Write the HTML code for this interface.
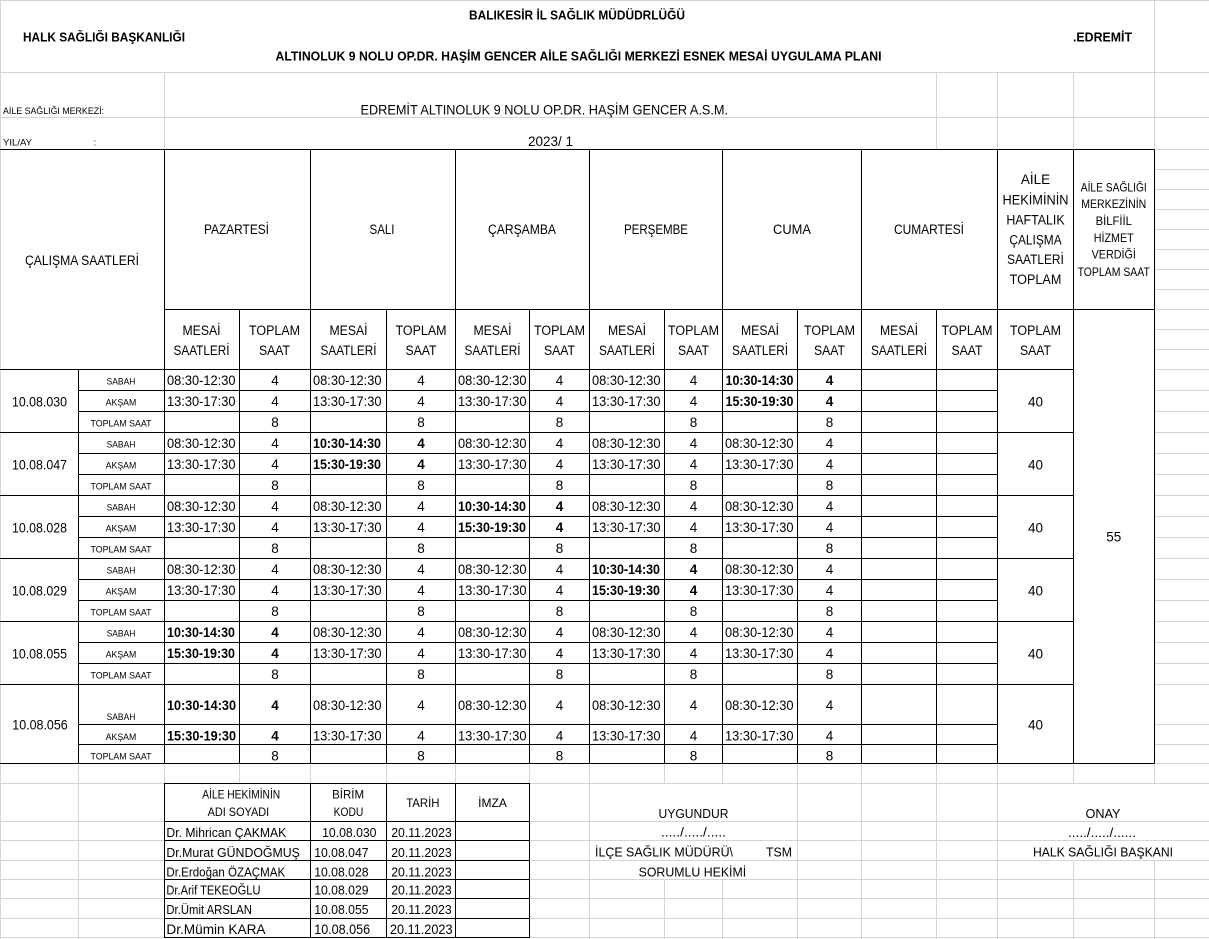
<!DOCTYPE html>
<html><head><meta charset="utf-8"><style>
html,body{margin:0;padding:0;background:#fff;}
svg{display:block;}
text{font-family:"Liberation Sans",sans-serif;fill:#000;font-size:13.5px;}
.b{font-weight:bold;}
.s{font-size:9.5px;}
.m{font-size:12px;}
.g{stroke:#d4d4d4;stroke-width:1;fill:none;}
.k{stroke:#000;stroke-width:1;fill:none;}
</style></head><body>
<svg width="1209" height="939" viewBox="0 0 1209 939" xmlns="http://www.w3.org/2000/svg">
<rect width="1209" height="939" fill="#fff"/>
<!-- grey gridlines -->
<path class="g" d="M0 0.5H1209M0 72.5H1209M0 117.5H1209M1154.5 149.5H1209
M1154.5 169.5H1209M1154.5 189.5H1209M1154.5 209.5H1209M1154.5 229.5H1209M1154.5 249.5H1209M1154.5 269.5H1209M1154.5 289.5H1209M1154.5 309.5H1209M1154.5 329.5H1209M1154.5 349.5H1209M1154.5 369.5H1209
M1154.5 390.5H1209M1154.5 411.5H1209M1154.5 432.5H1209M1154.5 453.5H1209M1154.5 474.5H1209M1154.5 495.5H1209M1154.5 516.5H1209M1154.5 537.5H1209M1154.5 558.5H1209M1154.5 579.5H1209M1154.5 600.5H1209M1154.5 621.5H1209M1154.5 642.5H1209M1154.5 663.5H1209M1154.5 684.5H1209M1154.5 724.5H1209M1154.5 744.5H1209M1154.5 763.5H1209
M0 783.5H164.5M529.5 783.5H1209M0 821.5H164.5M529.5 821.5H1209M0 840.5H164.5M529.5 840.5H1209M0 860.5H164.5M529.5 860.5H1209M0 879.5H164.5M529.5 879.5H1209M0 898.5H164.5M529.5 898.5H1209M0 918.5H164.5M529.5 918.5H1209M0 937.5H164.5M529.5 937.5H1209
M0.5 0V939M164.5 72.5V149.5M936.5 72.5V149.5M997.5 72.5V149.5M1073.5 72.5V149.5M1154.5 0V149.5
M78.5 763.5V783.5M164.5 763.5V783.5M239.5 763.5V783.5M310.5 763.5V783.5M386.5 763.5V783.5M455.5 763.5V783.5M529.5 763.5V783.5M664.5 763.5V783.5M722.5 763.5V783.5M1073.5 763.5V783.5M1154.5 763.5V783.5
M78.5 763.5V939M589.5 763.5V939M797.5 763.5V939M861.5 763.5V939M936.5 763.5V939M997.5 763.5V939
M664.5 879.5V939M722.5 879.5V939M1073.5 860.5V939M1154.5 860.5V939"/>
<!-- black table lines -->
<path class="k" d="M0 149.5H1154.5M164.5 309.5H1154.5M0 369.5H1073.5
M0 432.5H1073.5M0 495.5H1073.5M0 558.5H1073.5M0 621.5H1073.5M0 684.5H1073.5M0 763.5H1154.5
M78.5 390.5H997.5M78.5 411.5H997.5M78.5 453.5H997.5M78.5 474.5H997.5M78.5 516.5H997.5M78.5 537.5H997.5M78.5 579.5H997.5M78.5 600.5H997.5M78.5 642.5H997.5M78.5 663.5H997.5M78.5 724.5H997.5M78.5 744.5H997.5
M164.5 149.5V763.5M310.5 149.5V763.5M455.5 149.5V763.5M589.5 149.5V763.5M722.5 149.5V763.5M861.5 149.5V763.5M997.5 149.5V763.5M1073.5 149.5V763.5M1154.5 149.5V763.5
M239.5 309.5V763.5M386.5 309.5V763.5M529.5 309.5V763.5M664.5 309.5V763.5M797.5 309.5V763.5M936.5 309.5V763.5M78.5 369.5V763.5
M164.5 783.5H529.5V937.5H164.5ZM310.5 783.5V937.5M386.5 783.5V937.5M455.5 783.5V937.5
M164.5 821.5H529.5M164.5 840.5H529.5M164.5 860.5H529.5M164.5 879.5H529.5M164.5 898.5H529.5M164.5 918.5H529.5"/>

<!-- title area -->
<text class="b" style="font-size:12.5px" x="469" y="19.5" textLength="216" lengthAdjust="spacingAndGlyphs">BALIKESİR İL SAĞLIK MÜDÜDRLÜĞÜ</text>
<text class="b" style="font-size:12.5px" x="23" y="41.5" textLength="162" lengthAdjust="spacingAndGlyphs">HALK SAĞLIĞI BAŞKANLIĞI</text>
<text class="b" style="font-size:12.5px" x="1073" y="41.5" textLength="59" lengthAdjust="spacingAndGlyphs">.EDREMİT</text>
<text class="b" style="font-size:12.5px" x="275.5" y="60.5" textLength="606" lengthAdjust="spacingAndGlyphs">ALTINOLUK 9 NOLU OP.DR. HAŞİM GENCER AİLE SAĞLIĞI MERKEZİ ESNEK MESAİ UYGULAMA PLANI</text>
<text class="s" x="3" y="114" textLength="101" lengthAdjust="spacingAndGlyphs">AİLE SAĞLIĞI MERKEZİ:</text>
<text x="360.5" y="114.5" textLength="367.5" lengthAdjust="spacingAndGlyphs">EDREMİT ALTINOLUK 9 NOLU OP.DR. HAŞİM GENCER A.S.M.</text>
<text class="s" x="3" y="145.5" textLength="29" lengthAdjust="spacingAndGlyphs">YIL/AY</text>
<text class="s" x="93.5" y="145.5">:</text>
<text x="528" y="145.8" textLength="45" lengthAdjust="spacingAndGlyphs">2023/ 1</text>

<!-- header -->
<text x="82" y="264.8" text-anchor="middle" textLength="114" lengthAdjust="spacingAndGlyphs">ÇALIŞMA SAATLERİ</text>
<text x="236.5" y="233.8" text-anchor="middle" textLength="65" lengthAdjust="spacingAndGlyphs">PAZARTESİ</text>
<text x="382" y="233.8" text-anchor="middle" textLength="25" lengthAdjust="spacingAndGlyphs">SALI</text>
<text x="522" y="233.8" text-anchor="middle" textLength="68" lengthAdjust="spacingAndGlyphs">ÇARŞAMBA</text>
<text x="656" y="233.8" text-anchor="middle" textLength="64" lengthAdjust="spacingAndGlyphs">PERŞEMBE</text>
<text x="792" y="233.8" text-anchor="middle" textLength="38" lengthAdjust="spacingAndGlyphs">CUMA</text>
<text x="929" y="233.8" text-anchor="middle" textLength="70" lengthAdjust="spacingAndGlyphs">CUMARTESİ</text>

<text x="1035.5" y="184.1" text-anchor="middle">AİLE</text>
<text x="1035.5" y="204.3" text-anchor="middle" textLength="66" lengthAdjust="spacingAndGlyphs">HEKİMİNİN</text>
<text x="1035.5" y="224.3" text-anchor="middle" textLength="58.3" lengthAdjust="spacingAndGlyphs">HAFTALIK</text>
<text x="1035.5" y="244.3" text-anchor="middle" textLength="52.3" lengthAdjust="spacingAndGlyphs">ÇALIŞMA</text>
<text x="1035.5" y="264.1" text-anchor="middle" textLength="56.7" lengthAdjust="spacingAndGlyphs">SAATLERİ</text>
<text x="1035.5" y="284.1" text-anchor="middle" textLength="51.7" lengthAdjust="spacingAndGlyphs">TOPLAM</text>

<text class="m" x="1113.75" y="191.5" text-anchor="middle" textLength="66" lengthAdjust="spacingAndGlyphs">AİLE SAĞLIĞI</text>
<text class="m" x="1113.75" y="208.2" text-anchor="middle" textLength="65" lengthAdjust="spacingAndGlyphs">MERKEZİNİN</text>
<text class="m" x="1113.75" y="225.2" text-anchor="middle" textLength="36.3" lengthAdjust="spacingAndGlyphs">BİLFİİL</text>
<text class="m" x="1113.75" y="241.9" text-anchor="middle" textLength="40" lengthAdjust="spacingAndGlyphs">HİZMET</text>
<text class="m" x="1113.75" y="258.5" text-anchor="middle" textLength="44.3" lengthAdjust="spacingAndGlyphs">VERDİĞİ</text>
<text class="m" x="1113.75" y="275.9" text-anchor="middle" textLength="72.3" lengthAdjust="spacingAndGlyphs">TOPLAM SAAT</text>

<g text-anchor="middle">
<text x="201.5" y="334.8" textLength="38" lengthAdjust="spacingAndGlyphs">MESAİ</text>
<text x="201.5" y="354.8" textLength="56" lengthAdjust="spacingAndGlyphs">SAATLERİ</text>
<text x="274.5" y="334.8" textLength="51" lengthAdjust="spacingAndGlyphs">TOPLAM</text>
<text x="274.5" y="354.8" textLength="31" lengthAdjust="spacingAndGlyphs">SAAT</text>
<text x="348.5" y="334.8" textLength="38" lengthAdjust="spacingAndGlyphs">MESAİ</text>
<text x="348.5" y="354.8" textLength="56" lengthAdjust="spacingAndGlyphs">SAATLERİ</text>
<text x="421" y="334.8" textLength="51" lengthAdjust="spacingAndGlyphs">TOPLAM</text>
<text x="421" y="354.8" textLength="31" lengthAdjust="spacingAndGlyphs">SAAT</text>
<text x="492.5" y="334.8" textLength="38" lengthAdjust="spacingAndGlyphs">MESAİ</text>
<text x="492.5" y="354.8" textLength="56" lengthAdjust="spacingAndGlyphs">SAATLERİ</text>
<text x="559.5" y="334.8" textLength="51" lengthAdjust="spacingAndGlyphs">TOPLAM</text>
<text x="559.5" y="354.8" textLength="31" lengthAdjust="spacingAndGlyphs">SAAT</text>
<text x="627" y="334.8" textLength="38" lengthAdjust="spacingAndGlyphs">MESAİ</text>
<text x="627" y="354.8" textLength="56" lengthAdjust="spacingAndGlyphs">SAATLERİ</text>
<text x="693.5" y="334.8" textLength="51" lengthAdjust="spacingAndGlyphs">TOPLAM</text>
<text x="693.5" y="354.8" textLength="31" lengthAdjust="spacingAndGlyphs">SAAT</text>
<text x="760" y="334.8" textLength="38" lengthAdjust="spacingAndGlyphs">MESAİ</text>
<text x="760" y="354.8" textLength="56" lengthAdjust="spacingAndGlyphs">SAATLERİ</text>
<text x="829.5" y="334.8" textLength="51" lengthAdjust="spacingAndGlyphs">TOPLAM</text>
<text x="829.5" y="354.8" textLength="31" lengthAdjust="spacingAndGlyphs">SAAT</text>
<text x="899" y="334.8" textLength="38" lengthAdjust="spacingAndGlyphs">MESAİ</text>
<text x="899" y="354.8" textLength="56" lengthAdjust="spacingAndGlyphs">SAATLERİ</text>
<text x="967" y="334.8" textLength="51" lengthAdjust="spacingAndGlyphs">TOPLAM</text>
<text x="967" y="354.8" textLength="31" lengthAdjust="spacingAndGlyphs">SAAT</text>
<text x="1035.5" y="334.8" textLength="51" lengthAdjust="spacingAndGlyphs">TOPLAM</text>
<text x="1035.5" y="354.8" textLength="31" lengthAdjust="spacingAndGlyphs">SAAT</text>
<text x="1113.75" y="541.5">55</text>
</g>

<!-- codes, labels, weekly totals -->
<g text-anchor="middle">
<text x="39.5" y="406.3" textLength="55" lengthAdjust="spacingAndGlyphs">10.08.030</text>
<text x="39.5" y="469.3" textLength="55" lengthAdjust="spacingAndGlyphs">10.08.047</text>
<text x="39.5" y="532.3" textLength="55" lengthAdjust="spacingAndGlyphs">10.08.028</text>
<text x="39.5" y="595.3" textLength="55" lengthAdjust="spacingAndGlyphs">10.08.029</text>
<text x="39.5" y="658.3" textLength="55" lengthAdjust="spacingAndGlyphs">10.08.055</text>
<text x="40" y="729.5" textLength="55.5" lengthAdjust="spacingAndGlyphs">10.08.056</text>
<text x="1035.5" y="406.3">40</text>
<text x="1035.5" y="469.3">40</text>
<text x="1035.5" y="532.3">40</text>
<text x="1035.5" y="595.3">40</text>
<text x="1035.5" y="658.3">40</text>
<text x="1035.5" y="729.3">40</text>

<text class="s" x="121" y="384.4" textLength="28.7" lengthAdjust="spacingAndGlyphs">SABAH</text>
<text class="s" x="121" y="405.4" textLength="30.7" lengthAdjust="spacingAndGlyphs">AKŞAM</text>
<text class="s" x="121" y="426.4" textLength="61" lengthAdjust="spacingAndGlyphs">TOPLAM SAAT</text>
<text class="s" x="121" y="447.4" textLength="28.7" lengthAdjust="spacingAndGlyphs">SABAH</text>
<text class="s" x="121" y="468.4" textLength="30.7" lengthAdjust="spacingAndGlyphs">AKŞAM</text>
<text class="s" x="121" y="489.4" textLength="61" lengthAdjust="spacingAndGlyphs">TOPLAM SAAT</text>
<text class="s" x="121" y="510.4" textLength="28.7" lengthAdjust="spacingAndGlyphs">SABAH</text>
<text class="s" x="121" y="531.4" textLength="30.7" lengthAdjust="spacingAndGlyphs">AKŞAM</text>
<text class="s" x="121" y="552.4" textLength="61" lengthAdjust="spacingAndGlyphs">TOPLAM SAAT</text>
<text class="s" x="121" y="573.4" textLength="28.7" lengthAdjust="spacingAndGlyphs">SABAH</text>
<text class="s" x="121" y="594.4" textLength="30.7" lengthAdjust="spacingAndGlyphs">AKŞAM</text>
<text class="s" x="121" y="615.4" textLength="61" lengthAdjust="spacingAndGlyphs">TOPLAM SAAT</text>
<text class="s" x="121" y="636.4" textLength="28.7" lengthAdjust="spacingAndGlyphs">SABAH</text>
<text class="s" x="121" y="657.4" textLength="30.7" lengthAdjust="spacingAndGlyphs">AKŞAM</text>
<text class="s" x="121" y="678.4" textLength="61" lengthAdjust="spacingAndGlyphs">TOPLAM SAAT</text>
<text class="s" x="121" y="720.1" textLength="28.7" lengthAdjust="spacingAndGlyphs">SABAH</text>
<text class="s" x="121" y="740.1" textLength="30.7" lengthAdjust="spacingAndGlyphs">AKŞAM</text>
<text class="s" x="121" y="759.6" textLength="61" lengthAdjust="spacingAndGlyphs">TOPLAM SAAT</text>
</g>

<!-- Group 1 (bold: Cuma) -->
<g>
<text x="167" y="384.8" textLength="68.5" lengthAdjust="spacingAndGlyphs">08:30-12:30</text>
<text x="313" y="384.8" textLength="68.5" lengthAdjust="spacingAndGlyphs">08:30-12:30</text>
<text x="458" y="384.8" textLength="68.5" lengthAdjust="spacingAndGlyphs">08:30-12:30</text>
<text x="592" y="384.8" textLength="68.5" lengthAdjust="spacingAndGlyphs">08:30-12:30</text>
<text class="b" x="725.5" y="384.8" textLength="68" lengthAdjust="spacingAndGlyphs">10:30-14:30</text>
<text x="167" y="405.8" textLength="68.5" lengthAdjust="spacingAndGlyphs">13:30-17:30</text>
<text x="313" y="405.8" textLength="68.5" lengthAdjust="spacingAndGlyphs">13:30-17:30</text>
<text x="458" y="405.8" textLength="68.5" lengthAdjust="spacingAndGlyphs">13:30-17:30</text>
<text x="592" y="405.8" textLength="68.5" lengthAdjust="spacingAndGlyphs">13:30-17:30</text>
<text class="b" x="725.5" y="405.8" textLength="68" lengthAdjust="spacingAndGlyphs">15:30-19:30</text>
</g>
<g text-anchor="middle">
<text x="275" y="384.8">4</text><text x="421" y="384.8">4</text><text x="559.5" y="384.8">4</text><text x="693.5" y="384.8">4</text><text class="b" x="829.5" y="384.8">4</text>
<text x="275" y="405.8">4</text><text x="421" y="405.8">4</text><text x="559.5" y="405.8">4</text><text x="693.5" y="405.8">4</text><text class="b" x="829.5" y="405.8">4</text>
<text x="275" y="426.8">8</text><text x="421" y="426.8">8</text><text x="559.5" y="426.8">8</text><text x="693.5" y="426.8">8</text><text x="829.5" y="426.8">8</text>
</g>

<!-- Group 2 (bold: Salı) -->
<g>
<text x="167" y="447.8" textLength="68.5" lengthAdjust="spacingAndGlyphs">08:30-12:30</text>
<text class="b" x="313" y="447.8" textLength="68" lengthAdjust="spacingAndGlyphs">10:30-14:30</text>
<text x="458" y="447.8" textLength="68.5" lengthAdjust="spacingAndGlyphs">08:30-12:30</text>
<text x="592" y="447.8" textLength="68.5" lengthAdjust="spacingAndGlyphs">08:30-12:30</text>
<text x="725" y="447.8" textLength="68.5" lengthAdjust="spacingAndGlyphs">08:30-12:30</text>
<text x="167" y="468.8" textLength="68.5" lengthAdjust="spacingAndGlyphs">13:30-17:30</text>
<text class="b" x="313" y="468.8" textLength="68" lengthAdjust="spacingAndGlyphs">15:30-19:30</text>
<text x="458" y="468.8" textLength="68.5" lengthAdjust="spacingAndGlyphs">13:30-17:30</text>
<text x="592" y="468.8" textLength="68.5" lengthAdjust="spacingAndGlyphs">13:30-17:30</text>
<text x="725" y="468.8" textLength="68.5" lengthAdjust="spacingAndGlyphs">13:30-17:30</text>
</g>
<g text-anchor="middle">
<text x="275" y="447.8">4</text><text class="b" x="421" y="447.8">4</text><text x="559.5" y="447.8">4</text><text x="693.5" y="447.8">4</text><text x="829.5" y="447.8">4</text>
<text x="275" y="468.8">4</text><text class="b" x="421" y="468.8">4</text><text x="559.5" y="468.8">4</text><text x="693.5" y="468.8">4</text><text x="829.5" y="468.8">4</text>
<text x="275" y="489.8">8</text><text x="421" y="489.8">8</text><text x="559.5" y="489.8">8</text><text x="693.5" y="489.8">8</text><text x="829.5" y="489.8">8</text>
</g>

<!-- Group 3 (bold: Çarşamba) -->
<g>
<text x="167" y="510.8" textLength="68.5" lengthAdjust="spacingAndGlyphs">08:30-12:30</text>
<text x="313" y="510.8" textLength="68.5" lengthAdjust="spacingAndGlyphs">08:30-12:30</text>
<text class="b" x="458" y="510.8" textLength="68" lengthAdjust="spacingAndGlyphs">10:30-14:30</text>
<text x="592" y="510.8" textLength="68.5" lengthAdjust="spacingAndGlyphs">08:30-12:30</text>
<text x="725" y="510.8" textLength="68.5" lengthAdjust="spacingAndGlyphs">08:30-12:30</text>
<text x="167" y="531.8" textLength="68.5" lengthAdjust="spacingAndGlyphs">13:30-17:30</text>
<text x="313" y="531.8" textLength="68.5" lengthAdjust="spacingAndGlyphs">13:30-17:30</text>
<text class="b" x="458" y="531.8" textLength="68" lengthAdjust="spacingAndGlyphs">15:30-19:30</text>
<text x="592" y="531.8" textLength="68.5" lengthAdjust="spacingAndGlyphs">13:30-17:30</text>
<text x="725" y="531.8" textLength="68.5" lengthAdjust="spacingAndGlyphs">13:30-17:30</text>
</g>
<g text-anchor="middle">
<text x="275" y="510.8">4</text><text x="421" y="510.8">4</text><text class="b" x="559.5" y="510.8">4</text><text x="693.5" y="510.8">4</text><text x="829.5" y="510.8">4</text>
<text x="275" y="531.8">4</text><text x="421" y="531.8">4</text><text class="b" x="559.5" y="531.8">4</text><text x="693.5" y="531.8">4</text><text x="829.5" y="531.8">4</text>
<text x="275" y="552.8">8</text><text x="421" y="552.8">8</text><text x="559.5" y="552.8">8</text><text x="693.5" y="552.8">8</text><text x="829.5" y="552.8">8</text>
</g>

<!-- Group 4 (bold: Perşembe) -->
<g>
<text x="167" y="573.8" textLength="68.5" lengthAdjust="spacingAndGlyphs">08:30-12:30</text>
<text x="313" y="573.8" textLength="68.5" lengthAdjust="spacingAndGlyphs">08:30-12:30</text>
<text x="458" y="573.8" textLength="68.5" lengthAdjust="spacingAndGlyphs">08:30-12:30</text>
<text class="b" x="592" y="573.8" textLength="68" lengthAdjust="spacingAndGlyphs">10:30-14:30</text>
<text x="725" y="573.8" textLength="68.5" lengthAdjust="spacingAndGlyphs">08:30-12:30</text>
<text x="167" y="594.8" textLength="68.5" lengthAdjust="spacingAndGlyphs">13:30-17:30</text>
<text x="313" y="594.8" textLength="68.5" lengthAdjust="spacingAndGlyphs">13:30-17:30</text>
<text x="458" y="594.8" textLength="68.5" lengthAdjust="spacingAndGlyphs">13:30-17:30</text>
<text class="b" x="592" y="594.8" textLength="68" lengthAdjust="spacingAndGlyphs">15:30-19:30</text>
<text x="725" y="594.8" textLength="68.5" lengthAdjust="spacingAndGlyphs">13:30-17:30</text>
</g>
<g text-anchor="middle">
<text x="275" y="573.8">4</text><text x="421" y="573.8">4</text><text x="559.5" y="573.8">4</text><text class="b" x="693.5" y="573.8">4</text><text x="829.5" y="573.8">4</text>
<text x="275" y="594.8">4</text><text x="421" y="594.8">4</text><text x="559.5" y="594.8">4</text><text class="b" x="693.5" y="594.8">4</text><text x="829.5" y="594.8">4</text>
<text x="275" y="615.8">8</text><text x="421" y="615.8">8</text><text x="559.5" y="615.8">8</text><text x="693.5" y="615.8">8</text><text x="829.5" y="615.8">8</text>
</g>

<!-- Group 5 (bold: Pazartesi) -->
<g>
<text class="b" x="167" y="636.8" textLength="68" lengthAdjust="spacingAndGlyphs">10:30-14:30</text>
<text x="313" y="636.8" textLength="68.5" lengthAdjust="spacingAndGlyphs">08:30-12:30</text>
<text x="458" y="636.8" textLength="68.5" lengthAdjust="spacingAndGlyphs">08:30-12:30</text>
<text x="592" y="636.8" textLength="68.5" lengthAdjust="spacingAndGlyphs">08:30-12:30</text>
<text x="725" y="636.8" textLength="68.5" lengthAdjust="spacingAndGlyphs">08:30-12:30</text>
<text class="b" x="167" y="657.8" textLength="68" lengthAdjust="spacingAndGlyphs">15:30-19:30</text>
<text x="313" y="657.8" textLength="68.5" lengthAdjust="spacingAndGlyphs">13:30-17:30</text>
<text x="458" y="657.8" textLength="68.5" lengthAdjust="spacingAndGlyphs">13:30-17:30</text>
<text x="592" y="657.8" textLength="68.5" lengthAdjust="spacingAndGlyphs">13:30-17:30</text>
<text x="725" y="657.8" textLength="68.5" lengthAdjust="spacingAndGlyphs">13:30-17:30</text>
</g>
<g text-anchor="middle">
<text class="b" x="275" y="636.8">4</text><text x="421" y="636.8">4</text><text x="559.5" y="636.8">4</text><text x="693.5" y="636.8">4</text><text x="829.5" y="636.8">4</text>
<text class="b" x="275" y="657.8">4</text><text x="421" y="657.8">4</text><text x="559.5" y="657.8">4</text><text x="693.5" y="657.8">4</text><text x="829.5" y="657.8">4</text>
<text x="275" y="678.8">8</text><text x="421" y="678.8">8</text><text x="559.5" y="678.8">8</text><text x="693.5" y="678.8">8</text><text x="829.5" y="678.8">8</text>
</g>

<!-- Group 6 (bold: Pazartesi) -->
<g>
<text class="b" x="167" y="709.8" textLength="69" lengthAdjust="spacingAndGlyphs">10:30-14:30</text>
<text x="313" y="709.8" textLength="68.5" lengthAdjust="spacingAndGlyphs">08:30-12:30</text>
<text x="458" y="709.8" textLength="68.5" lengthAdjust="spacingAndGlyphs">08:30-12:30</text>
<text x="592" y="709.8" textLength="68.5" lengthAdjust="spacingAndGlyphs">08:30-12:30</text>
<text x="725" y="709.8" textLength="68.5" lengthAdjust="spacingAndGlyphs">08:30-12:30</text>
<text class="b" x="167" y="740.6" textLength="69" lengthAdjust="spacingAndGlyphs">15:30-19:30</text>
<text x="313" y="740.6" textLength="68.5" lengthAdjust="spacingAndGlyphs">13:30-17:30</text>
<text x="458" y="740.6" textLength="68.5" lengthAdjust="spacingAndGlyphs">13:30-17:30</text>
<text x="592" y="740.6" textLength="68.5" lengthAdjust="spacingAndGlyphs">13:30-17:30</text>
<text x="725" y="740.6" textLength="68.5" lengthAdjust="spacingAndGlyphs">13:30-17:30</text>
</g>
<g text-anchor="middle">
<text class="b" x="275" y="709.8">4</text><text x="421" y="709.8">4</text><text x="559.5" y="709.8">4</text><text x="693.5" y="709.8">4</text><text x="829.5" y="709.8">4</text>
<text class="b" x="275" y="740.6">4</text><text x="421" y="740.6">4</text><text x="559.5" y="740.6">4</text><text x="693.5" y="740.6">4</text><text x="829.5" y="740.6">4</text>
<text x="275" y="760.5">8</text><text x="421" y="760.5">8</text><text x="559.5" y="760.5">8</text><text x="693.5" y="760.5">8</text><text x="829.5" y="760.5">8</text>
</g>

<!-- signature table -->
<text class="m" x="202.2" y="798.5" textLength="78" lengthAdjust="spacingAndGlyphs">AİLE HEKİMİNİN</text>
<text class="m" x="207.6" y="816.2" textLength="61.6" lengthAdjust="spacingAndGlyphs">ADI SOYADI</text>
<text class="m" x="332.1" y="798.5" textLength="32" lengthAdjust="spacingAndGlyphs">BİRİM</text>
<text class="m" x="333.6" y="816.2" textLength="29.7" lengthAdjust="spacingAndGlyphs">KODU</text>
<text class="m" x="406.2" y="807.2" textLength="33.3" lengthAdjust="spacingAndGlyphs">TARİH</text>
<text class="m" x="492.5" y="807.2" text-anchor="middle">İMZA</text>

<g style="font-size:13px">
<text style="font-size:13px" x="166.4" y="836.8" textLength="119.9" lengthAdjust="spacingAndGlyphs">Dr. Mihrican ÇAKMAK</text>
<text style="font-size:13px" x="322.1" y="836.8" textLength="54.4" lengthAdjust="spacingAndGlyphs">10.08.030</text>
<text style="font-size:13px" x="391.2" y="836.8" textLength="60.5" lengthAdjust="spacingAndGlyphs">20.11.2023</text>
<text style="font-size:13px" x="166.4" y="856.8" textLength="133.5" lengthAdjust="spacingAndGlyphs">Dr.Murat GÜNDOĞMUŞ</text>
<text style="font-size:13px" x="314.2" y="856.8" textLength="54.4" lengthAdjust="spacingAndGlyphs">10.08.047</text>
<text style="font-size:13px" x="391.2" y="856.8" textLength="60.5" lengthAdjust="spacingAndGlyphs">20.11.2023</text>
<text style="font-size:13px" x="166.4" y="876.5" textLength="118.8" lengthAdjust="spacingAndGlyphs">Dr.Erdoğan ÖZAÇMAK</text>
<text style="font-size:13px" x="314.2" y="876.5" textLength="54.4" lengthAdjust="spacingAndGlyphs">10.08.028</text>
<text style="font-size:13px" x="391.2" y="876.5" textLength="60.5" lengthAdjust="spacingAndGlyphs">20.11.2023</text>
<text style="font-size:13px" x="166.4" y="894.6" textLength="94.1" lengthAdjust="spacingAndGlyphs">Dr.Arif TEKEOĞLU</text>
<text style="font-size:13px" x="314.2" y="894.6" textLength="54.4" lengthAdjust="spacingAndGlyphs">10.08.029</text>
<text style="font-size:13px" x="391.2" y="894.6" textLength="60.5" lengthAdjust="spacingAndGlyphs">20.11.2023</text>
<text style="font-size:13px" x="166.4" y="913.9" textLength="85.5" lengthAdjust="spacingAndGlyphs">Dr.Ümit ARSLAN</text>
<text style="font-size:13px" x="314.2" y="913.9" textLength="54.4" lengthAdjust="spacingAndGlyphs">10.08.055</text>
<text style="font-size:13px" x="391.2" y="913.9" textLength="60.5" lengthAdjust="spacingAndGlyphs">20.11.2023</text>
<text style="font-size:14px" x="166.4" y="934.2" textLength="99.1" lengthAdjust="spacingAndGlyphs">Dr.Mümin KARA</text>
<text style="font-size:14px" x="314.2" y="934.2" textLength="56" lengthAdjust="spacingAndGlyphs">10.08.056</text>
<text style="font-size:14px" x="390" y="934.2" textLength="62.5" lengthAdjust="spacingAndGlyphs">20.11.2023</text>
</g>

<!-- approval texts -->
<text style="font-size:13px" x="693.5" y="817.8" text-anchor="middle" textLength="70" lengthAdjust="spacingAndGlyphs">UYGUNDUR</text>
<text style="font-size:13px" x="693.5" y="836.5" text-anchor="middle" textLength="65" lengthAdjust="spacingAndGlyphs">...../...../.....</text>
<text style="font-size:13px" x="595" y="856.5" textLength="138" lengthAdjust="spacingAndGlyphs">İLÇE SAĞLIK MÜDÜRÜ\</text>
<text style="font-size:13px" x="766" y="856.5" textLength="26" lengthAdjust="spacingAndGlyphs">TSM</text>
<text style="font-size:13px" x="692.4" y="876.5" text-anchor="middle" textLength="107.6" lengthAdjust="spacingAndGlyphs">SORUMLU HEKİMİ</text>
<text style="font-size:13px" x="1103" y="818" text-anchor="middle" textLength="35" lengthAdjust="spacingAndGlyphs">ONAY</text>
<text style="font-size:13px" x="1102" y="837" text-anchor="middle" textLength="68" lengthAdjust="spacingAndGlyphs">...../...../......</text>
<text style="font-size:13px" x="1033" y="856.5" textLength="140" lengthAdjust="spacingAndGlyphs">HALK SAĞLIĞI BAŞKANI</text>
</svg>
</body></html>
